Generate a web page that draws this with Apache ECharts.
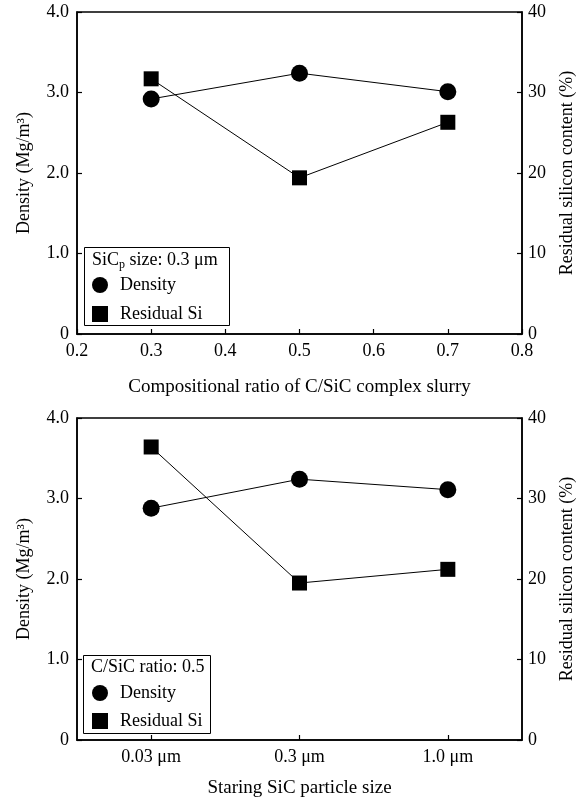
<!DOCTYPE html>
<html>
<head>
<meta charset="utf-8">
<script src="https://cdn.jsdelivr.net/npm/echarts@6/dist/echarts.min.js"></script>
<style>html,body{margin:0;padding:0;background:#fff}#c{width:584px;height:801px}</style>
</head>
<body>
<div id="c"></div>
<script>
// Top chart data
const topRatios = [0.3, 0.5, 0.7];
const topDensity = [2.92, 3.24, 3.01];
const topResidual = [31.7, 19.4, 26.3];
// Bottom chart data
const bottomSizes = ['0.03 μm', '0.3 μm', '1.0 μm'];
const bottomDensity = [2.88, 3.24, 3.11];
const bottomResidual = [36.4, 19.5, 21.2];
// Axis settings
const xRatioTicks = [0.2, 0.3, 0.4, 0.5, 0.6, 0.7, 0.8];
const densityTicks = ['0', '1.0', '2.0', '3.0', '4.0'];
const residualTicks = ['0', '10', '20', '30', '40'];

const FF = "'Liberation Serif', 'DejaVu Serif', serif";
const black = '#000';
const labelStyle = {color: black, fontSize: 18, fontFamily: FF};
const nameStyle = {color: black, fontSize: 18, fontFamily: FF};
const xNameStyle = {color: black, fontSize: 19, fontFamily: FF};
const axisLine = {show: true, lineStyle: {color: black, width: 1.5}};
const axisTick = {show: true, inside: true, length: 5, lineStyle: {color: black, width: 1.2}};

function densAxis(gi) {
  return {
    type: 'value', gridIndex: gi, position: 'left', min: 0, max: 4, interval: 1,
    axisLine, axisTick, splitLine: {show: false},
    axisLabel: Object.assign({margin: 8, formatter: v => densityTicks[Math.round(v)]}, labelStyle),
    name: 'Density (Mg/m³)', nameLocation: 'middle', nameRotate: 90, nameGap: 44, nameTextStyle: nameStyle
  };
}
function resAxis(gi) {
  return {
    type: 'value', gridIndex: gi, position: 'right', min: 0, max: 40, interval: 10,
    axisLine, axisTick, splitLine: {show: false},
    axisLabel: Object.assign({margin: 6, formatter: v => residualTicks[Math.round(v / 10)]}, labelStyle),
    name: 'Residual silicon content (%)', nameLocation: 'middle', nameRotate: 90, nameGap: 36, nameTextStyle: nameStyle
  };
}

const lineStyle = {color: black, width: 1};
const itemStyle = {color: black};

const option = {
  backgroundColor: '#fff',
  animation: false,
  grid: [
    {left: 77, right: 62, top: 12, height: 322, show: true, borderColor: black, borderWidth: 1.5},
    {left: 77, right: 62, top: 418, height: 322, show: true, borderColor: black, borderWidth: 1.5}
  ],
  xAxis: [
    {
      type: 'value', gridIndex: 0, min: 0.2, max: 0.8, interval: 0.1,
      axisLine, axisTick, splitLine: {show: false},
      axisLabel: Object.assign({margin: 8, formatter: v => {
        const idx = xRatioTicks.findIndex(t => Math.abs(t - v) < 1e-6);
        return idx >= 0 ? xRatioTicks[idx].toFixed(1) : '';
      }}, labelStyle),
      name: 'Compositional ratio of C/SiC complex slurry', nameLocation: 'middle', nameGap: 44, nameTextStyle: xNameStyle
    },
    {
      type: 'category', gridIndex: 1, data: bottomSizes, boundaryGap: true,
      axisLine, axisTick: Object.assign({alignWithLabel: true}, axisTick), splitLine: {show: false},
      axisLabel: Object.assign({margin: 8}, labelStyle),
      name: 'Staring SiC particle size', nameLocation: 'middle', nameGap: 39, nameTextStyle: xNameStyle
    }
  ],
  yAxis: [densAxis(0), resAxis(0), densAxis(1), resAxis(1)],
  legend: [
    {
      orient: 'vertical', left: 92, top: 276, padding: 0, itemWidth: 16, itemHeight: 16, itemGap: 11,
      selectedMode: false, z: 6,
      data: [{name: 'Density', icon: 'circle'}, {name: 'Residual Si', icon: 'rect'}],
      textStyle: {color: black, fontSize: 18, fontFamily: FF, padding: [0, 0, 0, 7]}
    },
    {
      orient: 'vertical', left: 92, top: 684, padding: 0, itemWidth: 16, itemHeight: 16, itemGap: 10,
      selectedMode: false, z: 6,
      data: [{name: 'Density', icon: 'circle'}, {name: 'Residual Si', icon: 'rect'}],
      textStyle: {color: black, fontSize: 18, fontFamily: FF, padding: [0, 0, 0, 7]}
    }
  ],
  graphic: [
    {type: 'rect', left: 84, top: 247, z: 4, shape: {width: 145, height: 78}, style: {fill: '#fff', stroke: black, lineWidth: 1}},
    {type: 'text', left: 92, top: 249, z: 5, style: {
      text: '{a|SiC}{s|p}{a| size: 0.3 μm}', fill: black,
      rich: {a: {fontSize: 18, fontFamily: FF, lineHeight: 22, fill: black}, s: {fontSize: 12, fontFamily: FF, lineHeight: 12, padding: [10, 0, 0, 0], fill: black}}
    }},
    {type: 'rect', left: 83, top: 655, z: 4, shape: {width: 127, height: 78}, style: {fill: '#fff', stroke: black, lineWidth: 1}},
    {type: 'text', left: 91, top: 658, z: 5, style: {text: 'C/SiC ratio: 0.5', fill: black, font: "18px 'Liberation Serif', 'DejaVu Serif', serif"}}
  ],
  series: [
    {type: 'line', name: 'Density', xAxisIndex: 0, yAxisIndex: 0, data: topRatios.map((x, i) => [x, topDensity[i]]),
      symbol: 'circle', symbolSize: 17, lineStyle, itemStyle},
    {type: 'line', name: 'Residual Si', xAxisIndex: 0, yAxisIndex: 1, data: topRatios.map((x, i) => [x, topResidual[i]]),
      symbol: 'rect', symbolSize: 15, lineStyle, itemStyle},
    {type: 'line', name: 'Density', xAxisIndex: 1, yAxisIndex: 2, data: bottomDensity,
      symbol: 'circle', symbolSize: 17, lineStyle, itemStyle},
    {type: 'line', name: 'Residual Si', xAxisIndex: 1, yAxisIndex: 3, data: bottomResidual,
      symbol: 'rect', symbolSize: 15, lineStyle, itemStyle}
  ]
};

const chart = echarts.init(document.getElementById('c'), null, {renderer: 'canvas'});
chart.setOption(option);
</script>
</body>
</html>
